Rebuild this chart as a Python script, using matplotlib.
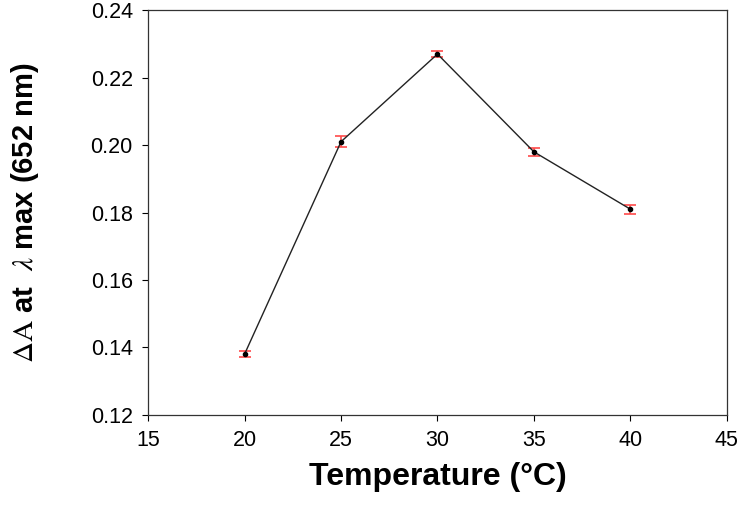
import matplotlib
matplotlib.use('Agg')
import matplotlib.pyplot as plt

temperature = [20, 25, 30, 35, 40]
delta_a = [0.138, 0.201, 0.227, 0.198, 0.181]
errors = [0.0009, 0.0016, 0.0009, 0.0011, 0.0013]

x_ticks = [15, 20, 25, 30, 35, 40, 45]
y_ticks = [0.12, 0.14, 0.16, 0.18, 0.20, 0.22, 0.24]

plt.rcParams['font.family'] = ['Liberation Sans', 'DejaVu Sans']
plt.rcParams['mathtext.fontset'] = 'stix'

fig = plt.figure(figsize=(7.44, 5.11), dpi=100)
ax = fig.add_axes([0.199, 0.188, 0.778, 0.792])

ax.errorbar(temperature, delta_a, yerr=errors, color='#222222', lw=1.0,
            marker='o', markersize=3, mfc='black', mec='black',
            ecolor='#ff4a4a', elinewidth=1.2, capsize=4.5, capthick=1.2)

ax.set_xlim(15, 45)
ax.set_ylim(0.12, 0.24)
ax.set_xticks(x_ticks)
ax.set_yticks(y_ticks)
ax.set_yticklabels([f'{v:.2f}' for v in y_ticks])
ax.tick_params(direction='out', length=4, pad=7, labelsize=15.5, width=0.8)
for s in ax.spines.values():
    s.set_linewidth(0.9)
    s.set_color('#333333')

ax.set_xlabel('Temperature (°C)', fontsize=23, fontweight='bold', labelpad=8)
ax.set_ylabel(r'$\Delta\mathrm{A}$ at  $\lambda$ max (652 nm)', fontsize=21,
              fontweight='bold', labelpad=36)

fig.savefig('out.png', dpi=100)
